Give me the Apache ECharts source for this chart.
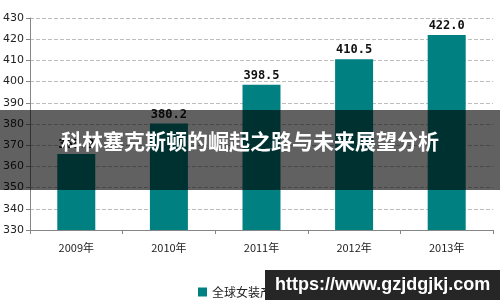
<!DOCTYPE html>
<html><head><meta charset="utf-8">
<script src="https://cdn.jsdelivr.net/npm/echarts@6/dist/echarts.min.js"></script>
<style>html,body{margin:0;padding:0;background:#fff}#c{width:500px;height:300px}</style>
</head><body><div id="c"></div>
<script>
const categories = ['2009年','2010年','2011年','2012年','2013年'];
const values = [365.9, 380.2, 398.5, 410.5, 422.0];
const seriesName = '全球女装产业规模（亿美元）';
const titleText = '科林塞克斯顿的崛起之路与未来展望分析';
const watermark = 'https://www.gzjdgjkj.com';

const chart = echarts.init(document.getElementById('c'), null, {renderer:'canvas'});
chart.setOption({
  animation:false,
  grid:{left:29,right:7,top:18,bottom:70},
  legend:{show:true,left:193,top:281,itemWidth:9,itemHeight:9,itemGap:4,
    textStyle:{fontSize:12,color:'#222',fontFamily:'Noto Sans CJK SC'},
    data:[{name:seriesName,icon:'rect'}]},
  xAxis:{type:'category',data:categories,
    axisLine:{lineStyle:{color:'#868686'}},
    axisTick:{show:true,interval:0,alignWithLabel:false,length:4,lineStyle:{color:'#868686'}},
    axisLabel:{fontSize:11,color:'#222',margin:12,fontFamily:'Noto Sans CJK SC'}},
  yAxis:{type:'value',min:330,max:430,interval:10,
    axisLine:{show:true,lineStyle:{color:'#868686'}},
    axisTick:{show:true,length:4,lineStyle:{color:'#868686'}},
    splitLine:{lineStyle:{type:'dashed',color:'#bdbdbd'}},
    axisLabel:{fontSize:11,color:'#222',margin:6,fontFamily:'DejaVu Sans'}},
  series:[{name:seriesName,type:'bar',data:values,barWidth:38,
    itemStyle:{color:'#008080'},
    label:{show:true,position:'top',fontSize:12,fontWeight:'bold',color:'#111',distance:3,
      fontFamily:'DejaVu Sans Mono',formatter:p=>p.value.toFixed(1)}}],
  graphic:[
    {type:'rect',left:0,top:110,shape:{width:500,height:80},style:{fill:'rgba(0,0,0,0.62)'},z:100},
    {type:'text',left:'center',top:131,style:{text:titleText,fill:'#fff',fontSize:21,fontWeight:'bold',fontFamily:'Noto Sans CJK SC'},z:101},
    {type:'rect',left:265,top:270,shape:{width:235,height:30},style:{fill:'#262626'},z:100},
    {type:'text',left:275,top:276,style:{text:watermark,fill:'#fff',fontSize:18,fontWeight:'bold',fontFamily:'Liberation Sans'},z:101}
  ]
});
</script></body></html>
